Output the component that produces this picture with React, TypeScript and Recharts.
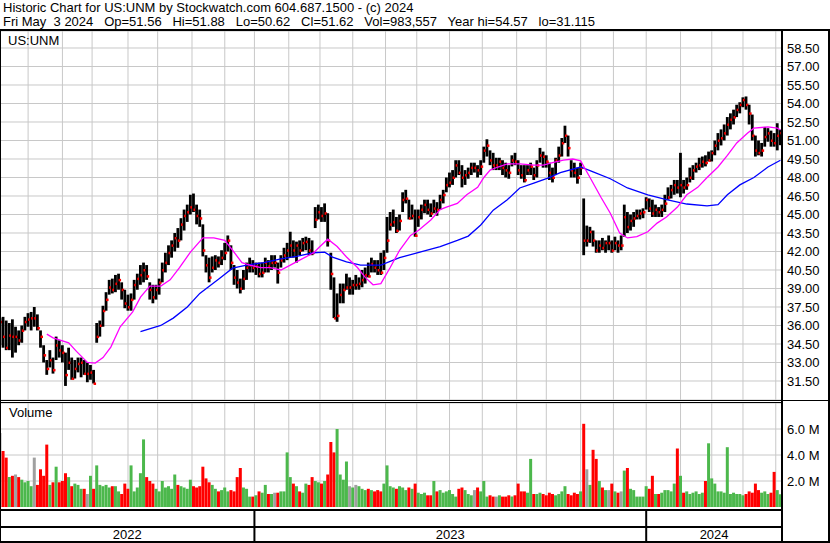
import React from "react";
import {
  ComposedChart,
  BarChart,
  Bar,
  Line,
  XAxis,
  YAxis,
  CartesianGrid,
  Cell,
  ReferenceLine,
  ReferenceArea,
} from "recharts";

// one bar per two trading days, May 2022 .. May 3 2024
const highs = [
  36.6, 36.7, 36.4, 36.2, 36.5, 35.9, 35.6, 36.0, 36.7, 37.0, 37.1, 37.5, 36.9, 35.6, 34.4, 33.2, 34.0, 33.4, 35.1, 34.8,
  34.4, 33.8, 34.2, 33.4, 33.2, 33.4, 33.4, 33.2, 33.0, 32.8, 32.4, 36.2, 36.4, 37.6, 38.7, 39.7, 39.8, 40.1, 40.2, 39.5,
  38.9, 38.5, 38.6, 39.7, 40.2, 40.9, 41.1, 40.9, 39.5, 39.3, 39.3, 39.8, 41.1, 41.9, 42.5, 42.9, 43.5, 43.9, 44.7, 45.4,
  45.8, 46.6, 46.7, 45.8, 45.4, 44.2, 41.7, 41.5, 41.6, 41.7, 41.6, 42.1, 42.7, 43.3, 42.5, 40.9, 40.5, 39.8, 40.5, 41.1,
  41.5, 41.3, 41.1, 41.1, 41.1, 41.5, 41.3, 41.7, 41.7, 41.1, 41.7, 42.3, 42.7, 43.6, 42.9, 42.8, 42.9, 43.1, 43.2, 43.1,
  42.9, 45.6, 45.8, 45.6, 45.9, 45.1, 41.9, 39.9, 38.6, 39.4, 39.4, 40.2, 39.9, 39.7, 40.1, 39.9, 40.5, 40.7, 41.1, 41.5,
  41.3, 41.3, 41.9, 42.1, 44.8, 45.2, 45.4, 44.8, 45.0, 46.8, 47.0, 46.2, 45.8, 45.4, 45.4, 45.8, 46.2, 46.2, 45.9, 46.2,
  46.0, 46.6, 47.0, 48.0, 48.4, 48.6, 49.4, 49.4, 49.0, 48.6, 48.8, 49.2, 49.2, 49.0, 49.4, 50.5, 51.1, 50.2, 50.0, 49.6,
  49.6, 49.4, 49.2, 49.0, 49.8, 50.0, 49.4, 49.0, 49.0, 49.0, 49.2, 48.8, 49.4, 50.4, 50.1, 49.8, 49.2, 48.8, 49.6, 50.5,
  51.2, 52.2, 51.4, 49.4, 49.2, 48.8, 49.2, 46.3, 44.1, 44.0, 43.7, 42.9, 42.9, 43.1, 42.9, 43.3, 42.9, 43.2, 42.9, 43.3,
  45.8, 45.2, 45.0, 45.2, 45.4, 45.4, 45.5, 46.4, 46.3, 46.2, 45.8, 45.6, 45.8, 46.6, 47.2, 47.4, 47.8, 47.8, 50.0, 47.8,
  48.0, 48.8, 49.0, 49.2, 49.6, 49.7, 49.8, 50.1, 50.2, 51.0, 51.6, 51.9, 52.3, 52.9, 53.2, 53.5, 53.9, 54.1, 54.5, 54.57,
  53.9, 53.1, 51.4, 51.0, 50.8, 52.1, 52.0, 51.8, 51.6, 52.4, 51.88,
];

const lows = [
  34.4, 34.2, 34.0, 34.0, 33.4, 33.8, 34.4, 34.6, 35.6, 35.9, 35.6, 35.9, 35.6, 34.2, 33.0, 32.0, 32.6, 32.1, 33.2, 33.4,
  33.0, 31.1, 32.4, 31.6, 31.7, 32.2, 31.8, 32.0, 31.4, 31.6, 31.3, 34.6, 35.1, 35.9, 37.2, 38.5, 38.6, 38.7, 38.9, 38.1,
  37.4, 37.2, 37.2, 38.1, 38.9, 39.3, 39.5, 39.7, 38.1, 37.8, 38.1, 38.5, 39.5, 40.3, 40.9, 41.5, 42.0, 42.3, 42.9, 43.7,
  44.4, 45.0, 45.2, 44.2, 44.0, 41.6, 40.3, 39.5, 40.3, 40.5, 40.7, 40.9, 41.3, 42.0, 40.5, 39.3, 39.0, 38.6, 38.9, 39.7,
  40.3, 40.3, 40.1, 39.9, 39.9, 40.3, 40.3, 40.5, 40.7, 39.4, 40.7, 41.1, 41.3, 41.5, 41.5, 41.1, 41.7, 42.0, 42.1, 41.7,
  41.7, 43.9, 44.6, 44.4, 44.4, 42.4, 38.9, 36.6, 36.3, 37.8, 37.8, 38.9, 38.5, 38.5, 38.9, 38.9, 39.1, 39.4, 39.9, 40.3,
  40.3, 40.1, 40.1, 40.5, 41.9, 43.7, 44.0, 43.5, 43.7, 45.2, 45.9, 44.6, 44.6, 43.2, 44.0, 44.6, 45.1, 45.0, 44.8, 45.1,
  44.9, 45.4, 45.9, 46.8, 47.2, 47.4, 48.0, 48.2, 47.2, 47.4, 47.9, 48.2, 48.4, 48.0, 48.2, 49.2, 49.7, 49.0, 48.6, 48.6,
  48.6, 48.2, 48.0, 47.9, 48.9, 49.0, 48.2, 47.9, 47.6, 48.2, 48.2, 47.8, 48.0, 49.2, 48.8, 48.8, 47.8, 47.6, 48.2, 49.2,
  49.7, 50.8, 49.7, 48.0, 48.0, 47.5, 48.2, 41.7, 42.4, 42.7, 42.4, 41.9, 41.9, 42.1, 41.9, 42.1, 41.9, 42.1, 41.9, 42.1,
  43.2, 43.5, 43.7, 44.0, 44.6, 44.6, 44.7, 45.4, 45.2, 44.8, 44.8, 44.8, 44.8, 45.2, 46.2, 46.3, 46.6, 46.7, 46.4, 46.7,
  47.0, 47.6, 47.8, 48.4, 48.6, 48.8, 48.9, 49.3, 49.3, 49.8, 50.2, 50.6, 51.0, 51.4, 51.9, 52.3, 52.9, 53.2, 53.7, 53.5,
  52.3, 51.0, 49.7, 49.8, 49.7, 50.5, 50.9, 50.5, 50.5, 50.2, 50.62,
];

const closes = [
  36.3, 35.1, 34.2, 35.2, 35.1, 35.1, 34.8, 35.6, 36.3, 36.5, 36.6, 36.6, 35.8, 35.1, 33.6, 32.5, 33.2, 32.4, 34.4, 34.0,
  33.8, 32.0, 33.0, 31.7, 32.5, 32.9, 33.0, 32.1, 32.1, 32.2, 31.3, 35.1, 36.0, 37.2, 38.1, 39.1, 38.9, 39.4, 39.7, 38.9,
  37.8, 37.5, 38.1, 39.3, 39.8, 40.1, 40.5, 40.0, 38.9, 38.3, 38.9, 39.5, 40.5, 41.1, 41.9, 42.5, 43.1, 42.9, 44.2, 44.9,
  45.2, 45.6, 45.4, 44.9, 44.7, 42.1, 40.9, 39.9, 40.7, 41.3, 41.1, 41.5, 41.9, 42.9, 41.1, 39.9, 39.5, 39.0, 39.8, 40.7,
  40.9, 40.7, 40.8, 40.2, 40.3, 41.1, 40.8, 41.1, 41.1, 40.3, 41.3, 41.7, 42.1, 42.5, 42.1, 42.5, 42.1, 42.7, 42.8, 42.1,
  41.9, 44.6, 45.2, 44.9, 45.1, 42.9, 40.2, 36.6, 36.8, 38.5, 38.9, 39.1, 39.1, 39.3, 39.3, 39.4, 39.7, 40.1, 40.0, 41.0,
  40.7, 40.5, 40.3, 41.5, 42.9, 44.2, 44.4, 43.7, 44.5, 46.2, 46.3, 44.7, 44.9, 43.3, 44.8, 45.4, 45.8, 45.4, 45.1, 45.5,
  45.4, 46.2, 46.6, 47.4, 47.6, 48.0, 49.0, 48.4, 48.0, 48.2, 48.4, 48.8, 48.8, 48.6, 48.9, 50.2, 50.6, 49.4, 49.0, 49.0,
  49.3, 48.8, 48.6, 48.4, 49.4, 49.3, 48.6, 48.2, 47.8, 48.6, 48.9, 48.2, 49.0, 49.8, 49.7, 49.3, 48.4, 48.0, 49.4, 49.8,
  50.8, 51.4, 50.4, 48.6, 48.4, 48.0, 48.8, 42.9, 42.9, 43.6, 42.9, 42.1, 42.5, 42.3, 42.7, 42.7, 42.1, 42.7, 42.5, 42.5,
  44.8, 44.0, 44.5, 44.7, 44.9, 45.1, 45.2, 46.2, 45.5, 45.1, 45.4, 45.2, 45.4, 45.9, 46.4, 47.0, 47.4, 47.2, 47.4, 47.2,
  47.4, 48.0, 48.6, 48.9, 49.0, 49.3, 49.2, 49.4, 50.0, 50.6, 51.0, 51.2, 51.6, 52.3, 52.7, 52.9, 53.5, 53.9, 54.3, 53.9,
  53.2, 51.4, 50.2, 50.0, 50.2, 51.3, 51.6, 51.0, 50.8, 51.4, 51.62,
];

// volume in millions
const vols = [
  5.7, 4.3, 3.8, 2.3, 2.4, 2.5, 2.3, 2.1, 1.9, 2.0, 1.6, 3.8, 1.7, 2.9, 2.4, 4.8, 1.7, 1.9, 3.1, 1.9,
  2.0, 2.6, 2.3, 1.6, 1.8, 1.7, 1.4, 1.4, 1.0, 2.4, 1.4, 3.2, 1.7, 1.6, 1.7, 1.5, 1.6, 1.6, 1.2, 1.0,
  1.8, 1.4, 3.2, 1.2, 1.5, 2.6, 5.2, 2.3, 2.0, 1.8, 1.4, 1.2, 2.0, 1.5, 1.6, 1.4, 2.5, 1.7, 1.6, 1.5,
  1.4, 2.1, 1.6, 1.5, 1.6, 3.1, 2.2, 1.9, 1.7, 1.4, 1.2, 1.3, 1.5, 1.2, 1.3, 1.2, 2.3, 3.0, 1.5, 1.4,
  0.8, 0.8, 0.9, 1.2, 1.1, 1.7, 1.0, 1.0, 1.1, 1.1, 1.2, 1.2, 4.2, 2.3, 1.8, 1.6, 1.2, 1.1, 1.8, 1.7,
  2.3, 2.0, 1.9, 1.8, 2.0, 2.5, 5.0, 4.2, 6.0, 2.5, 2.1, 3.5, 1.6, 1.5, 1.7, 1.6, 1.4, 1.3, 1.4, 1.3,
  1.2, 1.3, 1.2, 1.8, 3.2, 1.6, 1.5, 1.4, 1.6, 1.5, 1.3, 1.5, 1.4, 1.8, 1.1, 1.0, 1.1, 0.9, 0.9, 2.0,
  1.2, 1.3, 1.1, 1.2, 1.3, 1.0, 0.8, 1.4, 1.5, 1.3, 1.0, 0.9, 1.3, 1.5, 1.2, 2.0, 0.8, 0.9, 0.8, 0.8,
  0.9, 0.8, 0.8, 0.9, 0.8, 0.9, 1.8, 1.2, 1.2, 1.1, 3.7, 1.0, 1.0, 1.1, 1.0, 0.9, 1.1, 1.0, 0.9, 1.0,
  1.2, 1.6, 1.0, 0.9, 1.1, 1.0, 1.2, 6.4, 2.9, 1.7, 4.4, 3.7, 2.0, 1.5, 1.3, 1.3, 1.8, 1.2, 1.1, 1.2,
  2.8, 3.0, 1.4, 1.3, 0.8, 0.8, 0.8, 1.6, 1.4, 2.4, 1.0, 1.0, 1.1, 1.3, 1.3, 1.2, 1.8, 4.5, 2.4, 1.1,
  1.2, 1.0, 1.1, 1.2, 1.0, 1.1, 2.0, 4.9, 2.2, 1.8, 1.2, 1.2, 1.1, 4.6, 1.0, 1.1, 1.0, 1.0, 0.9, 1.0,
  1.2, 1.1, 1.8, 1.3, 1.1, 1.2, 1.0, 1.1, 2.7, 1.3, 0.98,
];

// moving averages: [trading day, price]
const pinkMA = [
  [30, 35.3], [34, 35.0], [44, 34.6], [49, 33.9], [56, 33.0], [61, 32.95], [66, 33.4], [71, 34.25], [77, 35.9], [85, 37.1],
  [90, 38.3], [96, 39.2], [103, 39.2], [109, 39.7], [115, 40.7], [122, 41.95], [130, 43.1], [137, 43.1], [144, 42.9], [149, 42.1],
  [155, 41.1], [160, 40.9], [167, 40.7], [173, 40.7], [180, 40.5], [186, 40.9], [192, 41.3], [201, 41.9], [205, 42.4], [210, 43.0],
  [216, 42.4], [222, 41.55], [229, 40.7], [234, 39.9], [239, 39.3], [244, 39.4], [250, 40.7], [256, 42.1], [263, 43.3], [268, 43.7],
  [276, 44.55], [282, 45.4], [286, 45.6], [293, 45.9], [299, 46.6], [306, 47.2], [310, 48.0], [314, 48.6], [319, 48.85], [325, 49.1],
  [333, 49.1], [342, 49.0], [348, 49.0], [354, 49.2], [361, 49.4], [367, 49.5], [372, 49.35], [378, 48.0], [385, 46.4], [391, 45.1],
  [397, 43.5], [402, 43.1], [408, 43.2], [415, 43.6], [421, 44.3], [427, 44.8], [434, 45.6], [440, 46.6], [447, 47.2], [453, 48.0],
  [460, 48.85], [466, 49.8], [472, 50.8], [479, 51.6], [483, 52.0], [492, 52.1], [498, 52.0], [500, 51.85],
];

const blueMA = [
  [90, 35.5], [103, 36.0], [111, 36.6], [120, 37.5], [128, 38.6], [141, 39.85], [149, 40.65], [158, 40.9], [169, 41.1], [180, 41.4],
  [190, 41.6], [201, 41.9], [208, 41.95], [213, 41.55], [222, 41.15], [231, 40.9], [244, 40.9], [256, 41.5], [269, 41.95], [282, 42.4],
  [293, 42.9], [300, 43.25], [308, 44.15], [316, 45.35], [325, 46.2], [333, 47.15], [342, 47.55], [351, 47.95], [359, 48.4], [372, 48.85],
  [380, 48.45], [391, 47.9], [402, 47.15], [415, 46.6], [427, 46.2], [440, 45.85], [453, 45.7], [460, 45.8], [466, 46.6], [474, 47.4],
  [483, 48.0], [492, 48.85], [500, 49.4],
];

// month starts on the bar axis (grid lines)
const monthStarts = [18, 40, 59, 82, 101, 123, 144, 163, 185, 205, 226, 247, 267, 288, 309, 331, 350, 372, 393, 414, 436, 456, 476, 497];
const priceTicks = [31.5, 33, 34.5, 36, 37.5, 39, 40.5, 42, 43.5, 45, 46.5, 48, 49.5, 51, 52.5, 54, 55.5, 57, 58.5];
const volTicks = [2, 4, 6];
const years = ["2022", "2023", "2024"];
const yearStart = [0, 163, 414];
const yearEnd = [163, 414, 501];

const bars = highs.map((hi, k) => ({ day: k * 2, hi, lo: lows[k], c: closes[k], vol: vols[k] }));
const pinkData = pinkMA.map(([day, v]) => ({ day, v }));
const blueData = blueMA.map(([day, v]) => ({ day, v }));
const yearRows = years.map((y, i) => ({ day: yearStart[i], v: 0.5 }));

const FONT = '"Liberation Sans", Arial, sans-serif';
const GRID = "#c8c8c8";
const X_DOMAIN: [number, number] = [0, 501];

function volColor(i: number) {
  if (i === 0) return "#a0a0a0";
  const d = closes[i] - closes[i - 1];
  if (d > 0) return "#4cb84c";
  if (d < 0) return "#ff0000";
  return "#a0a0a0";
}

// high-low stroke with a red close mark
function OhlcBar(props: any) {
  const { x, y, width, height, payload } = props;
  if (x == null || y == null || !payload) return null;
  const h = Math.max(height || 0, 1);
  const span = payload.hi - payload.lo || 1;
  const cy = y + ((payload.hi - payload.c) / span) * h;
  const mid = x + (width || 0) / 2;
  return (
    <g>
      <rect x={mid - 1.4} y={y} width={2.8} height={h} fill="#000" />
      <rect x={mid} y={cy - 1} width={2.5} height={2.5} fill="#ff0000" />
    </g>
  );
}

const line = (style: React.CSSProperties) => (
  <div style={{ position: "absolute", background: "#000", ...style }} />
);

export default function App() {
  const tickStyle = { fontSize: 13, fill: "#000", fontFamily: FONT };
  return (
    <div
      style={{
        position: "absolute",
        left: 0,
        top: 0,
        width: 830,
        height: 543,
        background: "#fff",
        overflow: "hidden",
        fontFamily: FONT,
      }}
    >
      <div style={{ position: "absolute", left: 3, top: 1, fontSize: 13, lineHeight: "14px", whiteSpace: "pre", color: "#000" }}>
        {"Historic Chart for US:UNM by Stockwatch.com 604.687.1500 - (c) 2024\n"}
        {"Fri May  3 2024   Op=51.56   Hi=51.88   Lo=50.62   Cl=51.62   Vol=983,557   Year hi=54.57   lo=31.115"}
      </div>

      <div style={{ position: "absolute", left: 0, top: 31 }}>
        <ComposedChart width={830} height={369} data={bars} margin={{ top: 0, right: 0, bottom: 0, left: 0 }}>
          <CartesianGrid stroke={GRID} />
          <XAxis type="number" dataKey="day" domain={X_DOMAIN} ticks={monthStarts} hide allowDataOverflow />
          <YAxis
            orientation="right"
            domain={[29.959, 59.878]}
            ticks={priceTicks}
            interval={0}
            width={48}
            axisLine={false}
            tickLine={false}
            tickSize={3}
            tickMargin={2}
            tick={tickStyle}
            tickFormatter={(v: number) => v.toFixed(2)}
            allowDataOverflow
          />
          <Bar dataKey={(d: any) => [d.lo, d.hi]} barSize={3} shape={<OhlcBar />} isAnimationActive={false} />
          <Line data={blueData} dataKey="v" stroke="#0000ff" strokeWidth={1.3} dot={false} isAnimationActive={false} />
          <Line data={pinkData} dataKey="v" stroke="#ff00ff" strokeWidth={1.3} dot={false} isAnimationActive={false} />
        </ComposedChart>
      </div>

      <div style={{ position: "absolute", left: 0, top: 403 }}>
        <BarChart width={830} height={104} data={bars} margin={{ top: 0, right: 0, bottom: 0, left: 0 }}>
          <CartesianGrid stroke={GRID} />
          <XAxis type="number" dataKey="day" domain={X_DOMAIN} ticks={monthStarts} hide allowDataOverflow />
          <YAxis
            orientation="right"
            domain={[0, 8]}
            ticks={volTicks}
            interval={0}
            width={48}
            axisLine={false}
            tickLine={false}
            tickSize={3}
            tickMargin={2}
            tick={tickStyle}
            tickFormatter={(v: number) => `${v.toFixed(1)} M`}
            allowDataOverflow
          />
          <Bar dataKey="vol" barSize={3} isAnimationActive={false}>
            {bars.map((b, i) => (
              <Cell key={i} fill={volColor(i)} />
            ))}
          </Bar>
        </BarChart>
      </div>

      <div style={{ position: "absolute", left: 0, top: 511 }}>
        <ComposedChart width={782} height={32} data={yearRows} margin={{ top: 0, right: 0, bottom: 2, left: 0 }}>
          <XAxis type="number" dataKey="day" domain={X_DOMAIN} hide allowDataOverflow />
          <YAxis type="number" domain={[0, 1]} hide allowDataOverflow />
          <Line dataKey="v" stroke="none" dot={false} activeDot={false} isAnimationActive={false} />
          {years.map((y, i) => (
            <ReferenceArea
              key={y}
              x1={yearStart[i]}
              x2={yearEnd[i]}
              y1={0}
              y2={1}
              fill="none"
              stroke="none"
              label={{ value: y, position: "insideBottom", offset: 2, fill: "#000", fontSize: 13, fontFamily: FONT }}
            />
          ))}
          {yearStart.slice(1).map((d) => (
            <ReferenceLine key={d} x={d} stroke="#000" strokeWidth={2} />
          ))}
        </ComposedChart>
      </div>

      <div style={{ position: "absolute", left: 8, top: 33, fontSize: 13, color: "#000" }}>US:UNM</div>
      <div style={{ position: "absolute", left: 9, top: 405, fontSize: 13, color: "#000" }}>Volume</div>

      {line({ left: 0, top: 29, width: 830, height: 2 })}
      {line({ left: 0, top: 29, width: 1, height: 514 })}
      {line({ left: 781, top: 29, width: 2, height: 514 })}
      {line({ left: 828, top: 29, width: 2, height: 514 })}
      {line({ left: 0, top: 400, width: 830, height: 1 })}
      {line({ left: 0, top: 402, width: 782, height: 1 })}
      {line({ left: 0, top: 509, width: 782, height: 2 })}
      {line({ left: 0, top: 526, width: 782, height: 2 })}
      {line({ left: 0, top: 541, width: 830, height: 2 })}
    </div>
  );
}
